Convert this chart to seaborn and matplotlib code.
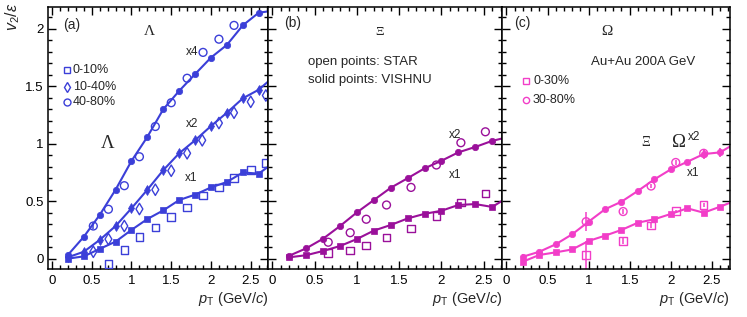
import numpy as np
import matplotlib
matplotlib.use("Agg")
import matplotlib.pyplot as plt
import seaborn as sns
from matplotlib.ticker import MultipleLocator, FuncFormatter

# ---------------- data (values as plotted, scale factors already applied) ----
pt_vishnu = [0.2, 0.4, 0.6, 0.8, 1.0, 1.2, 1.4, 1.6, 1.8, 2.0, 2.2, 2.4, 2.6, 2.8]

# Lambda, VISHNU
lam_vis_x1 = [0.00, 0.02, 0.085, 0.148, 0.25, 0.345, 0.42, 0.51, 0.557, 0.62, 0.667, 0.75, 0.74, 0.84]
lam_vis_x2 = [0.012, 0.06, 0.163, 0.284, 0.438, 0.60, 0.77, 0.917, 1.03, 1.154, 1.27, 1.395, 1.47, 1.59]
lam_vis_x4 = [0.032, 0.19, 0.38, 0.60, 0.85, 1.06, 1.30, 1.46, 1.606, 1.75, 1.86, 2.03, 2.14, 2.16]
# Lambda, STAR
lam_star_pt_a = [0.71, 0.91, 1.10, 1.30, 1.50, 1.70, 1.90, 2.10, 2.29, 2.50, 2.69]
lam_star_0_10 = [-0.046, 0.073, 0.186, 0.27, 0.36, 0.444, 0.548, 0.62, 0.70, 0.77, 0.83]
lam_star_pt_b = [0.52, 0.71, 0.91, 1.10, 1.30, 1.50, 1.70, 1.89, 2.10, 2.29, 2.50, 2.69]
lam_star_10_40 = [0.06, 0.17, 0.284, 0.432, 0.60, 0.765, 0.917, 1.03, 1.18, 1.27, 1.365, 1.42]
lam_star_pt_c = [0.52, 0.71, 0.91, 1.10, 1.30, 1.50, 1.70, 1.90, 2.10, 2.29]
lam_star_40_80 = [0.284, 0.43, 0.635, 0.887, 1.15, 1.357, 1.57, 1.795, 1.91, 2.03]
lam_star_40_80_err = [0.03, 0.0, 0.0, 0.0, 0.0, 0.0, 0.0, 0.0, 0.0, 0.0]

# Xi, VISHNU
xi_vis_x1 = [0.012, 0.03, 0.067, 0.11, 0.171, 0.244, 0.293, 0.35, 0.39, 0.417, 0.467, 0.475, 0.45, 0.54]
xi_vis_x2 = [0.026, 0.09, 0.174, 0.284, 0.403, 0.51, 0.617, 0.70, 0.786, 0.852, 0.925, 0.972, 1.025, 1.06]
# Xi, STAR
xi_star_pt = [0.66, 0.92, 1.11, 1.35, 1.64, 1.94, 2.23, 2.52]
xi_star_0_30 = [0.047, 0.07, 0.116, 0.183, 0.264, 0.37, 0.49, 0.568]
xi_star_30_80 = [0.143, 0.226, 0.343, 0.467, 0.62, 0.815, 1.009, 1.104]

# Omega, VISHNU
om_vis_x1 = [-0.026, 0.032, 0.055, 0.08, 0.154, 0.20, 0.25, 0.313, 0.343, 0.389, 0.438, 0.40, 0.452, 0.51]
om_vis_x2 = [0.017, 0.06, 0.125, 0.212, 0.322, 0.43, 0.496, 0.59, 0.69, 0.777, 0.843, 0.91, 0.925, 1.01]
om_vis_x1_err = [0.02, 0, 0, 0, 0, 0, 0, 0, 0, 0, 0, 0, 0, 0]
om_vis_x2_err = [0.02, 0, 0, 0, 0, 0, 0, 0, 0, 0, 0, 0.04, 0.04, 0]
# Omega, STAR
om_star_pt = [0.97, 1.42, 1.76, 2.06, 2.40]
om_star_0_30 = [0.032, 0.154, 0.29, 0.417, 0.467]
om_star_0_30_err = [0.12, 0.03, 0.02, 0.01, 0.02]
om_star_30_80 = [0.322, 0.41, 0.632, 0.837, 0.917]
om_star_30_80_err = [0.08, 0.02, 0.02, 0.02, 0.03]

x_ticks = [0, 0.5, 1, 1.5, 2, 2.5]
y_ticks = [0, 0.5, 1, 1.5, 2]

BLUE = "#3b3fd8"
PURPLE = "#9a109a"
MAGENTA = "#f23ec8"

# ---------------- style ----------------
sns.set_theme(style="ticks")
plt.rcParams["font.family"] = ["Liberation Sans", "DejaVu Sans"]
plt.rcParams["mathtext.fontset"] = "custom"
plt.rcParams["mathtext.rm"] = "Liberation Sans"
plt.rcParams["mathtext.it"] = "Liberation Sans:italic"
plt.rcParams["mathtext.bf"] = "Liberation Sans:bold"

fig = plt.figure(figsize=(7.47, 3.17), dpi=100)
gs = fig.add_gridspec(1, 3, width_ratios=[79.5, 84.5, 82.2], wspace=0,
                      left=48 / 747, right=730 / 747,
                      bottom=1 - 269 / 317, top=1 - 7 / 317)
axes = [fig.add_subplot(gs[0, i]) for i in range(3)]

fmt = FuncFormatter(lambda v, p: f"{v:g}")


def vishnu(ax, y, marker, color, ms, yerr=None):
    sns.lineplot(x=pt_vishnu, y=y, ax=ax, color=color, marker=marker,
                 markersize=ms, markeredgecolor=color, markeredgewidth=0.5,
                 linewidth=1.5, sort=False, errorbar=None)
    if yerr is not None:
        ax.errorbar(pt_vishnu, y, yerr=yerr, fmt="none", ecolor=color,
                    elinewidth=1.2, capsize=0)


def star(ax, x, y, marker, color, s, yerr=None):
    if yerr is not None:
        ax.errorbar(x, y, yerr=yerr, fmt="none", ecolor=color,
                    elinewidth=1.1, capsize=0)
    sns.scatterplot(x=x, y=y, ax=ax, marker=marker, s=s, facecolors="none",
                    edgecolor=color, linewidth=1.0, zorder=4)


# panel (a)
ax = axes[0]
vishnu(ax, lam_vis_x1, "s", BLUE, 4.5)
vishnu(ax, lam_vis_x2, "d", BLUE, 4.8, yerr=[0.02] * len(pt_vishnu))
vishnu(ax, lam_vis_x4, "o", BLUE, 4.6)
star(ax, lam_star_pt_a, lam_star_0_10, "s", BLUE, 30)
star(ax, lam_star_pt_b, lam_star_10_40, "d", BLUE, 34)
star(ax, lam_star_pt_c, lam_star_40_80, "o", BLUE, 32, yerr=lam_star_40_80_err)

# panel (b)
ax = axes[1]
vishnu(ax, xi_vis_x1, "s", PURPLE, 4.5)
vishnu(ax, xi_vis_x2, "o", PURPLE, 4.6)
star(ax, xi_star_pt, xi_star_0_30, "s", PURPLE, 30)
star(ax, xi_star_pt, xi_star_30_80, "o", PURPLE, 32)

# panel (c)
ax = axes[2]
vishnu(ax, om_vis_x1, "s", MAGENTA, 4.5, yerr=om_vis_x1_err)
vishnu(ax, om_vis_x2, "o", MAGENTA, 4.6, yerr=om_vis_x2_err)
star(ax, om_star_pt, om_star_0_30, "s", MAGENTA, 30, yerr=om_star_0_30_err)
star(ax, om_star_pt, om_star_30_80, "o", MAGENTA, 32, yerr=om_star_30_80_err)

for i, ax in enumerate(axes):
    ax.set_xlim(-0.05, 2.72)
    ax.set_ylim(-0.09, 2.19)
    ax.set_xticks(x_ticks)
    ax.set_yticks(y_ticks)
    ax.xaxis.set_minor_locator(MultipleLocator(0.1))
    ax.yaxis.set_minor_locator(MultipleLocator(0.1))
    ax.xaxis.set_major_formatter(fmt)
    ax.yaxis.set_major_formatter(fmt)
    ax.tick_params(which="both", direction="in", top=True, right=True,
                   colors="black", width=1.0, labelsize=9.5)
    ax.tick_params(which="major", length=6)
    ax.tick_params(which="minor", length=3)
    ax.tick_params(axis="x", pad=4)
    ax.tick_params(axis="y", pad=3)
    if i > 0:
        ax.tick_params(axis="y", labelleft=False)
    for sp in ax.spines.values():
        sp.set_visible(True)
        sp.set_linewidth(1.1)
        sp.set_color("black")
    ax.set_xlabel("")
    ax.set_ylabel("")
    ax.text(1.0, -0.13, r"$p_{\mathrm{T}}$ (GeV/$c$)", transform=ax.transAxes,
            ha="right", va="baseline", fontsize=10.5)

fig.text(13 / 747, 1 - 3 / 317, r"$v_{2}/\varepsilon$", rotation=90,
         ha="center", va="top", fontsize=11.5)

SERIF = ["Liberation Serif", "DejaVu Serif"]

# panel (a) annotations
ax = axes[0]
T = ax.transAxes
ax.text(0.068, 0.931, "(a)", transform=T, ha="left", va="center", fontsize=10)
ax.text(0.46, 0.905, "Λ", transform=T, ha="center", va="center", fontsize=11,
        family=SERIF)
ax.text(0.27, 0.48, "Λ", transform=T, ha="center", va="center", fontsize=13.5,
        family=SERIF)
for yy, mk, lab in [(0.76, "s", "0-10%"), (0.695, "d", "10-40%"), (0.637, "o", "40-80%")]:
    ax.plot([0.086], [yy], marker=mk, transform=T, ms=5, mfc="none", mec=BLUE,
            mew=1.0, ls="none", clip_on=False)
    ax.text(0.112, yy, lab, transform=T, ha="left", va="center", fontsize=9)
ax.text(0.656, 0.828, "x4", transform=T, ha="center", va="center", fontsize=8.5)
ax.text(0.656, 0.553, "x2", transform=T, ha="center", va="center", fontsize=8.5)
ax.text(0.652, 0.347, "x1", transform=T, ha="center", va="center", fontsize=8.5)

# panel (b) annotations
ax = axes[1]
T = ax.transAxes
ax.text(0.066, 0.939, "(b)", transform=T, ha="left", va="center", fontsize=10)
ax.text(0.474, 0.905, "Ξ", transform=T, ha="center", va="center", fontsize=9.5,
        family=SERIF)
ax.text(0.168, 0.79, "open points: STAR", transform=T, ha="left", va="center",
        fontsize=9.5)
ax.text(0.168, 0.721, "solid points: VISHNU", transform=T, ha="left",
        va="center", fontsize=9.5)
ax.text(0.797, 0.511, "x2", transform=T, ha="center", va="center", fontsize=8.5)
ax.text(0.797, 0.359, "x1", transform=T, ha="center", va="center", fontsize=8.5)

# panel (c) annotations
ax = axes[2]
T = ax.transAxes
ax.text(0.054, 0.939, "(c)", transform=T, ha="left", va="center", fontsize=10)
ax.text(0.459, 0.905, "Ω", transform=T, ha="center", va="center", fontsize=11,
        family=SERIF)
ax.text(0.389, 0.79, "Au+Au 200A GeV", transform=T, ha="left", va="center",
        fontsize=9.5)
for yy, mk, lab in [(0.718, "s", "0-30%"), (0.645, "o", "30-80%")]:
    ax.plot([0.105], [yy], marker=mk, transform=T, ms=4.5, mfc="none",
            mec=MAGENTA, mew=1.0, ls="none", clip_on=False)
    ax.text(0.135, yy, lab, transform=T, ha="left", va="center", fontsize=9)
ax.text(0.629, 0.481, "Ξ", transform=T, ha="center", va="center", fontsize=10,
        family=SERIF)
ax.text(0.775, 0.481, "Ω", transform=T, ha="center", va="center", fontsize=13.5,
        family=SERIF)
ax.text(0.815, 0.505, "x2", transform=T, ha="left", va="center", fontsize=8.5)
ax.text(0.838, 0.366, "x1", transform=T, ha="center", va="center", fontsize=8.5)

fig.savefig("out.png", dpi=100)
